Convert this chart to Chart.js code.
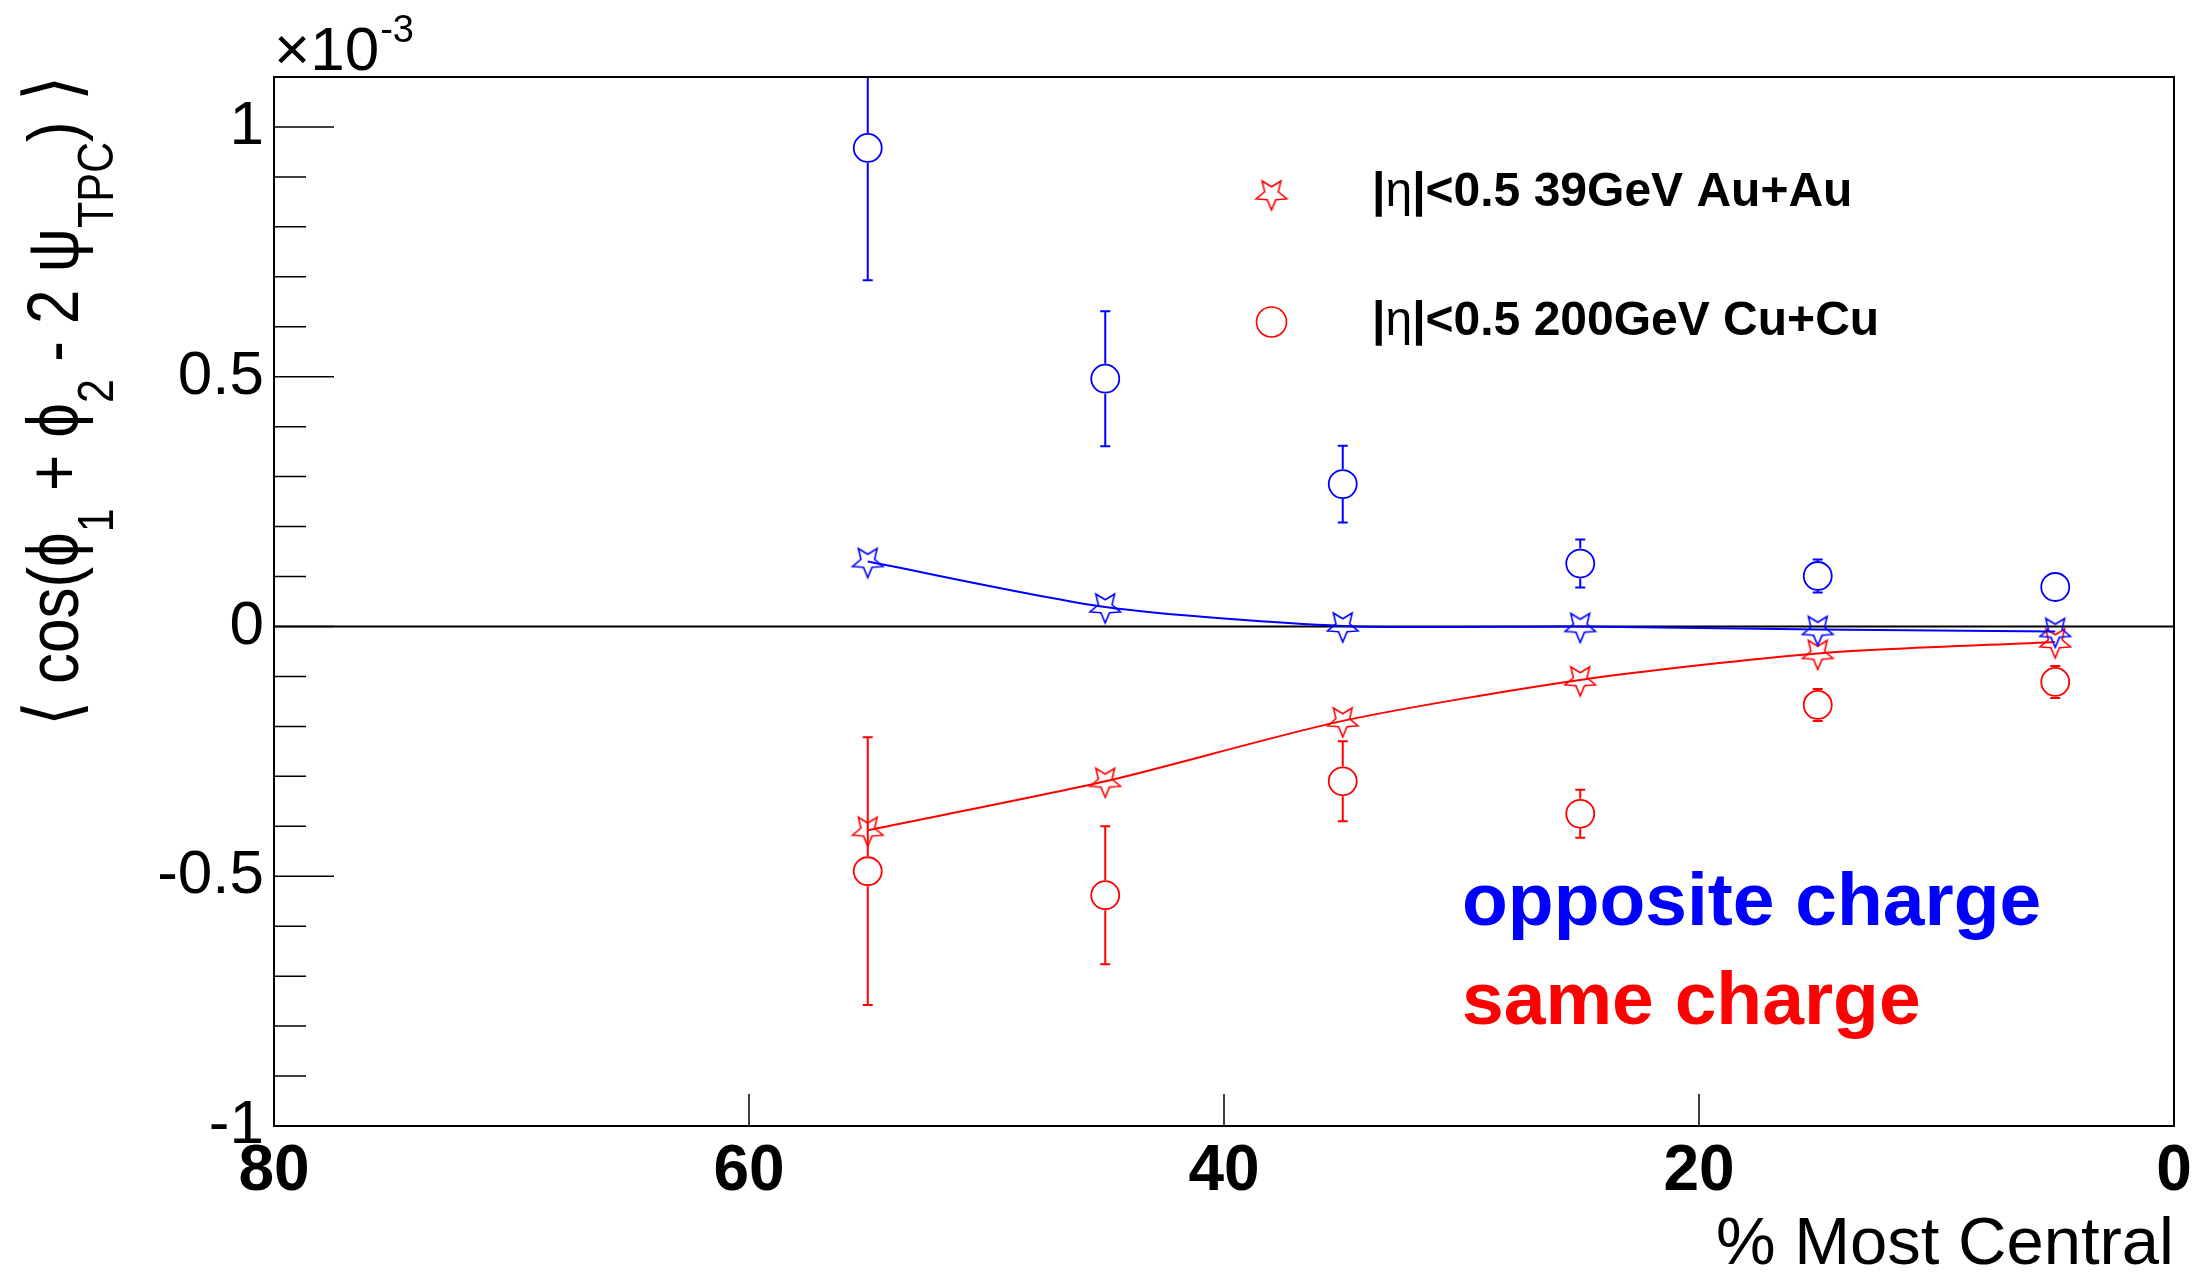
<!DOCTYPE html>
<html>
<head>
<meta charset="utf-8">
<script src="https://cdn.jsdelivr.net/npm/chart.js@4/dist/chart.umd.min.js"></script>
<style>
  body { margin: 0; background: #fff; }
  #wrap { width: 2206px; height: 1273px; }
</style>
</head>
<body>
<div id="wrap"><canvas id="myChart" width="2206" height="1273"></canvas></div>
<script>
// centrality bins (% most central)
var centrality = [55, 45, 35, 25, 15, 5];

// 39 GeV Au+Au (stars), values in units of 1e-3
var oppAuAu    = [0.13, 0.039, 0.001, 0.0, -0.006, -0.010];
var oppAuAuErr = [0.028, 0.012, 0.008, 0.006, 0.005, 0.005];
var sameAuAu    = [-0.408, -0.31, -0.189, -0.107, -0.054, -0.031];
var sameAuAuErr = [0.02, 0.012, 0.008, 0.006, 0.005, 0.005];

// 200 GeV Cu+Cu (open circles)
var oppCuCu    = [0.958, 0.496, 0.285, 0.126, 0.101, 0.079];
var oppCuCuErr = [0.265, 0.135, 0.077, 0.048, 0.033, 0.03];
var sameCuCu    = [-0.49, -0.538, -0.31, -0.375, -0.157, -0.111];
var sameCuCuErr = [0.268, 0.138, 0.08, 0.048, 0.032, 0.032];

var xTicks = [80, 60, 40, 20, 0];
var yMinorStep = 0.1;

var BLUE = '#0000ff', RED = '#ff0000';
var FONT = '"Liberation Sans", Arial, Helvetica, sans-serif';

function points(vals) {
    return centrality.map(function(c, i) { return { x: c, y: vals[i] }; });
}

// open five-pointed star, point down (ROOT marker 30 look)
function makeStar(color, R) {
    var c = document.createElement('canvas');
    var s = Math.ceil(R * 2 + 4);
    c.width = s; c.height = s;
    var g = c.getContext('2d');
    g.strokeStyle = color;
    g.lineWidth = 1.6;
    g.beginPath();
    for (var k = 0; k < 10; k++) {
        var r = (k % 2 === 0) ? R : R * 0.45;
        var a = Math.PI / 2 + k * Math.PI / 5;
        var px = s / 2 + r * Math.cos(a), py = s / 2 + r * Math.sin(a);
        if (k === 0) g.moveTo(px, py); else g.lineTo(px, py);
    }
    g.closePath();
    g.stroke();
    return c;
}
var redStar = makeStar(RED, 16), blueStar = makeStar(BLUE, 16);

// error bars, zero line, frame and inner ticks
var rootStyle = {
    id: 'rootStyle',
    beforeDatasetsDraw: function(chart) {
        var ctx = chart.ctx, a = chart.chartArea;
        var xs = chart.scales.x, ys = chart.scales.y;
        ctx.save();
        // zero line
        ctx.strokeStyle = '#000';
        ctx.lineWidth = 2;
        ctx.beginPath();
        ctx.moveTo(a.left, ys.getPixelForValue(0));
        ctx.lineTo(a.right, ys.getPixelForValue(0));
        ctx.stroke();

        ctx.beginPath();
        ctx.rect(a.left, a.top, a.right - a.left, a.bottom - a.top);
        ctx.clip();
        chart.data.datasets.forEach(function(ds) {
            if (!ds.errors) return;
            ctx.strokeStyle = ds.borderColor;
            ctx.lineWidth = 2;
            var gap = ds.markerGap;
            ds.data.forEach(function(p, i) {
                var px = xs.getPixelForValue(p.x);
                var py = ys.getPixelForValue(p.y);
                var top = ys.getPixelForValue(p.y + ds.errors[i]);
                var bot = ys.getPixelForValue(p.y - ds.errors[i]);
                ctx.beginPath();
                if (py - top > gap) {
                    ctx.moveTo(px, py - gap); ctx.lineTo(px, top);
                    ctx.moveTo(px - 5, top); ctx.lineTo(px + 5, top);
                }
                if (bot - py > gap) {
                    ctx.moveTo(px, py + gap); ctx.lineTo(px, bot);
                    ctx.moveTo(px - 5, bot); ctx.lineTo(px + 5, bot);
                }
                ctx.stroke();
            });
        });
        ctx.restore();
    },
    afterDraw: function(chart) {
        var ctx = chart.ctx, a = chart.chartArea;
        var xs = chart.scales.x, ys = chart.scales.y;
        ctx.save();
        ctx.strokeStyle = '#000';
        ctx.lineWidth = 2;
        ctx.strokeRect(a.left, a.top, a.right - a.left, a.bottom - a.top);

        // y ticks: major every 0.5, minor every 0.1
        ctx.lineWidth = 1.5;
        ctx.beginPath();
        for (var v = ys.min; v <= ys.max + 1e-9; v += yMinorStep) {
            var val = Math.round(v * 10) / 10;
            var py = ys.getPixelForValue(val);
            var len = (Math.round(val * 10) % 5 === 0) ? 60 : 32;
            ctx.moveTo(a.left, py); ctx.lineTo(a.left + len, py);
        }
        xTicks.forEach(function(t) {
            var px = xs.getPixelForValue(t);
            ctx.moveTo(px, a.bottom); ctx.lineTo(px, a.bottom - 32);
        });
        ctx.stroke();

        // exponent label
        ctx.fillStyle = '#000';
        ctx.textBaseline = 'alphabetic';
        ctx.textAlign = 'left';
        ctx.font = '62px ' + FONT;
        ctx.fillText('\u00d710', a.left, 70);
        var w = ctx.measureText('\u00d710').width;
        ctx.font = '38px ' + FONT;
        ctx.fillText('-3', a.left + w + 1, 42);

        // x title
        ctx.font = '67px ' + FONT;
        ctx.textAlign = 'right';
        ctx.fillText('% Most Central', a.right, 1264);

        // y title, rotated, built from pieces with subscripts
        // kind: 0 main, 1 subscript, 2 bracket
        var parts = [
            ['\u27e8', 2], [' cos(\u03d5', 0], ['1', 1], [' + \u03d5', 0], ['2', 1],
            [' - 2 \u03c8', 0], ['TPC', 1], [')', 0], [' \u27e9', 2]
        ];
        var fonts = ['62px ' + FONT, '43px ' + FONT, '200 64px "DejaVu Sans", ' + FONT];
        var shifts = [0, 30, 0];
        var total = 0;
        parts.forEach(function(p) {
            ctx.font = fonts[p[1]];
            total += ctx.measureText(p[0]).width;
        });
        ctx.translate(78, 76);
        ctx.rotate(-Math.PI / 2);
        ctx.scale(1, 1.18);
        ctx.textAlign = 'left';
        var cx = -total;
        parts.forEach(function(p) {
            ctx.font = fonts[p[1]];
            ctx.fillText(p[0], cx, shifts[p[1]]);
            cx += ctx.measureText(p[0]).width;
        });
        ctx.restore();

        // legend and labels inside the frame
        ctx.save();
        var lx = a.left + (a.right - a.left) * 0.525;
        ctx.drawImage(redStar, lx - redStar.width / 2, 194 - redStar.height / 2);
        ctx.strokeStyle = RED;
        ctx.lineWidth = 1.6;
        ctx.beginPath();
        ctx.arc(lx, 322, 15, 0, Math.PI * 2);
        ctx.stroke();
        ctx.fillStyle = '#000';
        ctx.textAlign = 'left';
        ctx.textBaseline = 'middle';
        var legendRows = [['39GeV Au+Au', 193], ['200GeV Cu+Cu', 322]];
        legendRows.forEach(function(row) {
            var tx = 1372;
            ctx.font = 'bold 48px ' + FONT;
            ctx.fillText('|', tx, row[1]);
            tx += ctx.measureText('|').width;
            ctx.font = '48px ' + FONT;
            ctx.fillText('\u03b7', tx, row[1]);
            tx += ctx.measureText('\u03b7').width;
            ctx.font = 'bold 48px ' + FONT;
            ctx.fillText('|<0.5 ' + row[0], tx, row[1]);
        });

        ctx.textBaseline = 'alphabetic';
        ctx.font = 'bold 75px ' + FONT;
        ctx.fillStyle = BLUE;
        ctx.fillText('opposite charge', 1462, 925);
        ctx.fillStyle = RED;
        ctx.fillText('same charge', 1462, 1024);
        ctx.restore();
    }
};

var ctx = document.getElementById('myChart').getContext('2d');
var chart = new Chart(ctx, {
    type: 'scatter',
    data: {
        datasets: [
            {
                label: 'opposite 39GeV Au+Au', data: points(oppAuAu), errors: oppAuAuErr,
                borderColor: BLUE, backgroundColor: BLUE, pointStyle: blueStar,
                showLine: true, tension: 0.25, borderWidth: 2, markerGap: 15
            },
            {
                label: 'same 39GeV Au+Au', data: points(sameAuAu), errors: sameAuAuErr,
                borderColor: RED, backgroundColor: RED, pointStyle: redStar,
                showLine: true, tension: 0.25, borderWidth: 2, markerGap: 15
            },
            {
                label: 'opposite 200GeV Cu+Cu', data: points(oppCuCu), errors: oppCuCuErr,
                borderColor: BLUE, backgroundColor: 'rgba(0,0,0,0)', pointStyle: 'circle',
                pointRadius: 14, pointBorderWidth: 1.8, showLine: false, markerGap: 15
            },
            {
                label: 'same 200GeV Cu+Cu', data: points(sameCuCu), errors: sameCuCuErr,
                borderColor: RED, backgroundColor: 'rgba(0,0,0,0)', pointStyle: 'circle',
                pointRadius: 14, pointBorderWidth: 1.8, showLine: false, markerGap: 15
            }
        ]
    },
    options: {
        responsive: false,
        animation: false,
        layout: { padding: { left: 0, right: 32, top: 77, bottom: 0 } },
        plugins: { legend: { display: false }, tooltip: { enabled: false } },
        scales: {
            x: {
                type: 'linear', min: 0, max: 80, reverse: true,
                grid: { display: false }, border: { display: false },
                afterFit: function(s) { s.height = 147; },
                ticks: {
                    stepSize: 20, padding: 0, color: '#000', autoSkip: false,
                    font: { family: FONT, size: 64, weight: 'bold' }
                }
            },
            y: {
                min: -1, max: 1.1,
                grid: { display: false }, border: { display: false },
                afterFit: function(s) { s.width = 274; },
                ticks: {
                    stepSize: 0.5, includeBounds: false, padding: 2, color: '#000', autoSkip: false,
                    font: { family: FONT, size: 62 },
                    callback: function(v) {
                        var r = Math.round(v * 10) / 10;
                        return (Math.round(r * 10) % 5 === 0) ? String(r) : '';
                    }
                }
            }
        }
    },
    plugins: [rootStyle]
});
</script>
</body>
</html>
